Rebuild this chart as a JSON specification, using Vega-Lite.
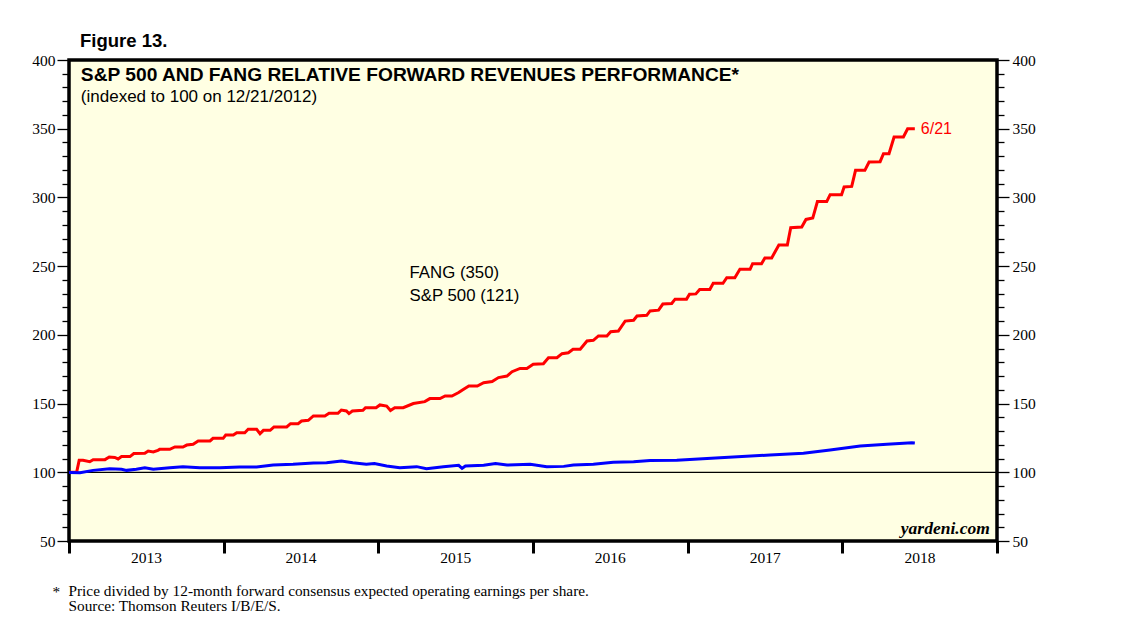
{
  "$schema": "https://vega.github.io/schema/vega-lite/v6.json",
  "width": 928,
  "height": 481,
  "autosize": {"type": "none"},
  "padding": {"left": 69, "top": 60, "right": 141, "bottom": 92},
  "background": "white",
  "title": {
    "text": "Figure 13.",
    "anchor": "start",
    "frame": "group",
    "dx": 11,
    "offset": 3,
    "font": "Liberation Sans",
    "fontSize": 18.5,
    "fontWeight": "bold",
    "color": "black"
  },
  "config": {
    "view": {"fill": "#FFFFE3", "stroke": "black", "strokeWidth": 3.5},
    "axis": {
      "domain": false,
      "grid": false,
      "labelFont": "Liberation Serif",
      "labelFontSize": 15.5,
      "labelColor": "black",
      "tickColor": "black",
      "titleColor": "black"
    }
  },
  "datasets": {
    "fang": [
      {"date": "2012-12-21", "value": 100},
      {"date": "2013-01-19", "value": 100},
      {"date": "2013-01-25", "value": 108.7},
      {"date": "2013-02-03", "value": 108.7},
      {"date": "2013-02-19", "value": 107.7},
      {"date": "2013-02-27", "value": 109.2},
      {"date": "2013-03-27", "value": 109.2},
      {"date": "2013-04-06", "value": 111.1},
      {"date": "2013-04-19", "value": 110.8},
      {"date": "2013-04-27", "value": 109.7},
      {"date": "2013-05-05", "value": 111.4},
      {"date": "2013-05-25", "value": 111.4},
      {"date": "2013-06-03", "value": 113.6},
      {"date": "2013-06-29", "value": 113.8},
      {"date": "2013-07-07", "value": 115.5},
      {"date": "2013-07-19", "value": 114.8},
      {"date": "2013-07-30", "value": 116},
      {"date": "2013-08-03", "value": 116.7},
      {"date": "2013-08-27", "value": 116.7},
      {"date": "2013-09-08", "value": 118.4},
      {"date": "2013-09-27", "value": 118.4},
      {"date": "2013-10-06", "value": 119.8},
      {"date": "2013-10-21", "value": 120.4},
      {"date": "2013-11-02", "value": 122.8},
      {"date": "2013-11-30", "value": 122.8},
      {"date": "2013-12-07", "value": 124.7},
      {"date": "2013-12-31", "value": 124.7},
      {"date": "2014-01-06", "value": 127.1},
      {"date": "2014-01-24", "value": 127.1},
      {"date": "2014-02-01", "value": 128.8},
      {"date": "2014-02-20", "value": 128.8},
      {"date": "2014-02-28", "value": 131.3},
      {"date": "2014-03-20", "value": 131.3},
      {"date": "2014-03-28", "value": 128.1},
      {"date": "2014-04-05", "value": 130.5},
      {"date": "2014-04-21", "value": 130.5},
      {"date": "2014-04-30", "value": 133},
      {"date": "2014-05-30", "value": 133},
      {"date": "2014-06-08", "value": 135.4},
      {"date": "2014-06-26", "value": 135.4},
      {"date": "2014-07-04", "value": 137.3},
      {"date": "2014-07-20", "value": 137.8},
      {"date": "2014-08-01", "value": 141},
      {"date": "2014-08-28", "value": 141},
      {"date": "2014-09-07", "value": 142.9},
      {"date": "2014-09-28", "value": 142.9},
      {"date": "2014-10-06", "value": 145.3},
      {"date": "2014-10-18", "value": 144.6},
      {"date": "2014-10-24", "value": 142.7},
      {"date": "2014-11-01", "value": 144.6},
      {"date": "2014-11-26", "value": 145.1},
      {"date": "2014-12-02", "value": 147},
      {"date": "2014-12-27", "value": 147},
      {"date": "2015-01-05", "value": 149},
      {"date": "2015-01-21", "value": 148.2},
      {"date": "2015-01-30", "value": 145},
      {"date": "2015-02-09", "value": 147},
      {"date": "2015-03-01", "value": 147},
      {"date": "2015-03-25", "value": 150},
      {"date": "2015-04-21", "value": 151.4},
      {"date": "2015-05-03", "value": 153.6},
      {"date": "2015-05-27", "value": 153.6},
      {"date": "2015-06-08", "value": 155.5},
      {"date": "2015-06-24", "value": 155.5},
      {"date": "2015-07-10", "value": 158},
      {"date": "2015-07-18", "value": 159.7},
      {"date": "2015-08-03", "value": 162.8},
      {"date": "2015-08-23", "value": 162.8},
      {"date": "2015-09-07", "value": 165.2},
      {"date": "2015-09-27", "value": 166},
      {"date": "2015-10-12", "value": 168.9},
      {"date": "2015-11-01", "value": 170},
      {"date": "2015-11-13", "value": 173.2},
      {"date": "2015-12-02", "value": 175.6},
      {"date": "2015-12-18", "value": 175.6},
      {"date": "2016-01-02", "value": 178.6},
      {"date": "2016-01-26", "value": 179},
      {"date": "2016-02-07", "value": 183.4},
      {"date": "2016-02-27", "value": 183.4},
      {"date": "2016-03-10", "value": 186.3},
      {"date": "2016-03-25", "value": 187},
      {"date": "2016-04-05", "value": 189.5},
      {"date": "2016-04-22", "value": 189.5},
      {"date": "2016-05-08", "value": 195.5},
      {"date": "2016-05-23", "value": 196},
      {"date": "2016-06-04", "value": 199.2},
      {"date": "2016-06-24", "value": 199.2},
      {"date": "2016-07-03", "value": 202.3},
      {"date": "2016-07-21", "value": 202.8},
      {"date": "2016-08-06", "value": 210},
      {"date": "2016-08-26", "value": 210.6},
      {"date": "2016-09-03", "value": 213.7},
      {"date": "2016-09-26", "value": 214.2},
      {"date": "2016-10-04", "value": 217.4},
      {"date": "2016-10-24", "value": 218},
      {"date": "2016-11-03", "value": 222.4},
      {"date": "2016-11-24", "value": 222.8},
      {"date": "2016-12-02", "value": 226},
      {"date": "2016-12-29", "value": 226},
      {"date": "2017-01-05", "value": 229.5},
      {"date": "2017-01-20", "value": 229.8},
      {"date": "2017-01-29", "value": 233},
      {"date": "2017-02-22", "value": 233},
      {"date": "2017-03-02", "value": 237.5},
      {"date": "2017-03-25", "value": 237.5},
      {"date": "2017-04-03", "value": 241.6},
      {"date": "2017-04-22", "value": 241.6},
      {"date": "2017-05-04", "value": 247.7},
      {"date": "2017-05-28", "value": 247.7},
      {"date": "2017-06-03", "value": 251.8},
      {"date": "2017-06-24", "value": 251.8},
      {"date": "2017-07-02", "value": 256},
      {"date": "2017-07-18", "value": 256},
      {"date": "2017-08-04", "value": 265.4},
      {"date": "2017-08-24", "value": 265.4},
      {"date": "2017-09-01", "value": 278},
      {"date": "2017-09-27", "value": 278.5},
      {"date": "2017-10-07", "value": 284},
      {"date": "2017-10-23", "value": 285},
      {"date": "2017-11-03", "value": 297},
      {"date": "2017-11-25", "value": 297},
      {"date": "2017-12-03", "value": 302},
      {"date": "2017-12-30", "value": 302},
      {"date": "2018-01-05", "value": 307.6},
      {"date": "2018-01-23", "value": 308},
      {"date": "2018-02-01", "value": 319.7},
      {"date": "2018-02-23", "value": 319.7},
      {"date": "2018-03-05", "value": 325.8},
      {"date": "2018-03-31", "value": 326},
      {"date": "2018-04-08", "value": 331.8},
      {"date": "2018-04-21", "value": 331.8},
      {"date": "2018-05-03", "value": 344},
      {"date": "2018-05-25", "value": 344},
      {"date": "2018-06-04", "value": 350},
      {"date": "2018-06-21", "value": 350}
    ],
    "spx": [
      {"date": "2012-12-21", "value": 100},
      {"date": "2013-01-27", "value": 99.7},
      {"date": "2013-02-27", "value": 101.4},
      {"date": "2013-04-07", "value": 102.6},
      {"date": "2013-05-05", "value": 102.2},
      {"date": "2013-05-17", "value": 101.4},
      {"date": "2013-06-09", "value": 102.2},
      {"date": "2013-06-29", "value": 103.3},
      {"date": "2013-07-19", "value": 102.2},
      {"date": "2013-08-27", "value": 103.3},
      {"date": "2013-09-27", "value": 104.1},
      {"date": "2013-11-06", "value": 103.3},
      {"date": "2013-12-23", "value": 103.3},
      {"date": "2014-02-08", "value": 103.8},
      {"date": "2014-03-20", "value": 103.8},
      {"date": "2014-04-28", "value": 105.3},
      {"date": "2014-06-14", "value": 105.8},
      {"date": "2014-08-01", "value": 106.7},
      {"date": "2014-09-01", "value": 107},
      {"date": "2014-10-06", "value": 108.2},
      {"date": "2014-11-02", "value": 107},
      {"date": "2014-12-04", "value": 105.8},
      {"date": "2014-12-23", "value": 106.3},
      {"date": "2015-01-21", "value": 104.6},
      {"date": "2015-02-21", "value": 103.3},
      {"date": "2015-04-02", "value": 104.1},
      {"date": "2015-04-25", "value": 102.6},
      {"date": "2015-06-04", "value": 104.1},
      {"date": "2015-07-10", "value": 105.1},
      {"date": "2015-07-18", "value": 102.9},
      {"date": "2015-07-26", "value": 104.6},
      {"date": "2015-09-07", "value": 105.1},
      {"date": "2015-10-05", "value": 106.3},
      {"date": "2015-11-01", "value": 105.3},
      {"date": "2015-12-26", "value": 105.8},
      {"date": "2016-02-03", "value": 104.1},
      {"date": "2016-03-14", "value": 104.3},
      {"date": "2016-04-06", "value": 105.3},
      {"date": "2016-05-23", "value": 105.8},
      {"date": "2016-07-09", "value": 107.3},
      {"date": "2016-08-26", "value": 107.7},
      {"date": "2016-10-04", "value": 108.5},
      {"date": "2016-12-06", "value": 108.8},
      {"date": "2017-03-18", "value": 110.6},
      {"date": "2017-07-14", "value": 112.6},
      {"date": "2017-10-01", "value": 113.8},
      {"date": "2017-12-03", "value": 116.2},
      {"date": "2018-02-12", "value": 119.1},
      {"date": "2018-04-16", "value": 120.4},
      {"date": "2018-06-14", "value": 121.5},
      {"date": "2018-06-21", "value": 121.3}
    ],
    "ref": [{"value": 100}],
    "heading": [{"date": "2013-01-29", "value": 384.5, "text": "S&P 500 AND FANG RELATIVE FORWARD REVENUES PERFORMANCE*"}],
    "subheading": [{"date": "2013-01-29", "value": 369.3, "text": "(indexed to 100 on 12/21/2012)"}],
    "labels": [
      {"date": "2015-03-16", "value": 241.2, "text": "FANG (350)"},
      {"date": "2015-03-16", "value": 224.4, "text": "S&P 500 (121)"}
    ],
    "last": [{"date": "2018-06-21", "value": 350, "text": "6/21"}],
    "credit": [{"date": "2018-12-15", "value": 54.8, "text": "yardeni.com"}]
  },
  "layer": [
    {
      "data": {"name": "ref"},
      "mark": {"type": "rule", "color": "black", "strokeWidth": 1.2},
      "encoding": {
        "y": {
          "field": "value", "type": "quantitative",
          "scale": {"domain": [50, 400], "nice": false, "zero": false},
          "axis": {
            "orient": "left",
            "values": [60, 70, 80, 90, 110, 120, 130, 140, 160, 170, 180, 190, 210, 220, 230, 240, 260, 270, 280, 290, 310, 320, 330, 340, 360, 370, 380, 390],
            "labels": false, "tickSize": 7, "tickWidth": 1.3, "title": null
          }
        }
      }
    },
    {
      "data": {"name": "fang"},
      "mark": {"type": "line", "color": "#FF0000", "strokeWidth": 3, "clip": true},
      "encoding": {
        "x": {
          "field": "date", "type": "temporal",
          "scale": {"type": "utc", "domain": [{"year": 2013, "month": 1, "date": 1, "utc": true}, {"year": 2019, "month": 1, "date": 1, "utc": true}]},
          "axis": {
            "orient": "bottom",
            "values": [
              {"year": 2013, "month": 1, "date": 1, "utc": true},
              {"year": 2014, "month": 1, "date": 1, "utc": true},
              {"year": 2015, "month": 1, "date": 1, "utc": true},
              {"year": 2016, "month": 1, "date": 1, "utc": true},
              {"year": 2017, "month": 1, "date": 1, "utc": true},
              {"year": 2018, "month": 1, "date": 1, "utc": true},
              {"year": 2019, "month": 1, "date": 1, "utc": true}
            ],
            "labelExpr": "utcyear(datum.value) == 2019 ? '' : utcFormat(datum.value, '%Y')",
            "labelOffset": 77,
            "labelFlush": false,
            "labelOverlap": false,
            "labelPadding": -3,
            "labelFontSize": 15.5,
            "tickSize": 12,
            "tickWidth": 3,
            "title": ["Price divided by 12-month forward consensus expected operating earnings per share.", "Source: Thomson Reuters I/B/E/S."],
            "titleFont": "Liberation Serif",
            "titleFontSize": 15.3,
            "titleFontWeight": "normal",
            "titleAnchor": "start",
            "titleAlign": "left",
            "titleBaseline": "alphabetic",
            "titleLineHeight": 15,
            "titleX": -1,
            "titleY": 54
          }
        },
        "y": {
          "field": "value", "type": "quantitative",
          "scale": {"domain": [50, 400], "nice": false, "zero": false},
          "axis": {
            "orient": "left",
            "values": [50, 100, 150, 200, 250, 300, 350, 400],
            "labelFontSize": 15.5,
            "tickSize": 12, "tickWidth": 1.3, "labelPadding": 2, "title": null
          }
        }
      }
    },
    {
      "data": {"name": "spx"},
      "mark": {"type": "line", "color": "#0000FF", "strokeWidth": 3, "clip": true},
      "encoding": {
        "x": {
          "field": "date", "type": "temporal",
          "axis": {
            "orient": "bottom",
            "ticks": false, "labels": false,
            "title": "*",
            "titleFont": "Liberation Serif",
            "titleFontSize": 15.3,
            "titleFontWeight": "normal",
            "titleAlign": "left",
            "titleBaseline": "alphabetic",
            "titleX": -17,
            "titleY": 55
          }
        },
        "y": {
          "field": "value", "type": "quantitative",
          "axis": {
            "orient": "right",
            "values": [50, 100, 150, 200, 250, 300, 350, 400],
            "labelFontSize": 15.5,
            "tickSize": 12, "tickWidth": 1.3, "labelPadding": 3, "title": null
          }
        }
      }
    },
    {
      "data": {"name": "heading"},
      "mark": {"type": "text", "align": "left", "baseline": "alphabetic", "font": "Liberation Sans", "fontSize": 19.2, "fontWeight": "bold", "color": "black"},
      "encoding": {
        "x": {"field": "date", "type": "temporal", "axis": null},
        "y": {
          "field": "value", "type": "quantitative",
          "axis": {
            "orient": "right",
            "values": [60, 70, 80, 90, 110, 120, 130, 140, 160, 170, 180, 190, 210, 220, 230, 240, 260, 270, 280, 290, 310, 320, 330, 340, 360, 370, 380, 390],
            "labels": false, "tickSize": 7, "tickWidth": 1.3, "title": null
          }
        },
        "text": {"field": "text"}
      }
    },
    {
      "data": {"name": "subheading"},
      "mark": {"type": "text", "align": "left", "baseline": "alphabetic", "font": "Liberation Sans", "fontSize": 17, "color": "black"},
      "encoding": {
        "x": {"field": "date", "type": "temporal", "axis": null},
        "y": {"field": "value", "type": "quantitative", "axis": null},
        "text": {"field": "text"}
      }
    },
    {
      "data": {"name": "labels"},
      "mark": {"type": "text", "align": "left", "baseline": "alphabetic", "font": "Liberation Sans", "fontSize": 16.8, "color": "black"},
      "encoding": {
        "x": {"field": "date", "type": "temporal", "axis": null},
        "y": {"field": "value", "type": "quantitative", "axis": null},
        "text": {"field": "text"}
      }
    },
    {
      "data": {"name": "last"},
      "mark": {"type": "text", "align": "left", "baseline": "middle", "dx": 6, "font": "Liberation Sans", "fontSize": 16, "color": "#FF0000"},
      "encoding": {
        "x": {"field": "date", "type": "temporal", "axis": null},
        "y": {"field": "value", "type": "quantitative", "axis": null},
        "text": {"field": "text"}
      }
    },
    {
      "data": {"name": "credit"},
      "mark": {"type": "text", "align": "right", "baseline": "alphabetic", "font": "Liberation Serif", "fontSize": 17.5, "fontWeight": "bold", "fontStyle": "italic", "color": "black"},
      "encoding": {
        "x": {"field": "date", "type": "temporal", "axis": null},
        "y": {"field": "value", "type": "quantitative", "axis": null},
        "text": {"field": "text"}
      }
    }
  ],
  "resolve": {"axis": {"x": "independent", "y": "independent"}}
}
